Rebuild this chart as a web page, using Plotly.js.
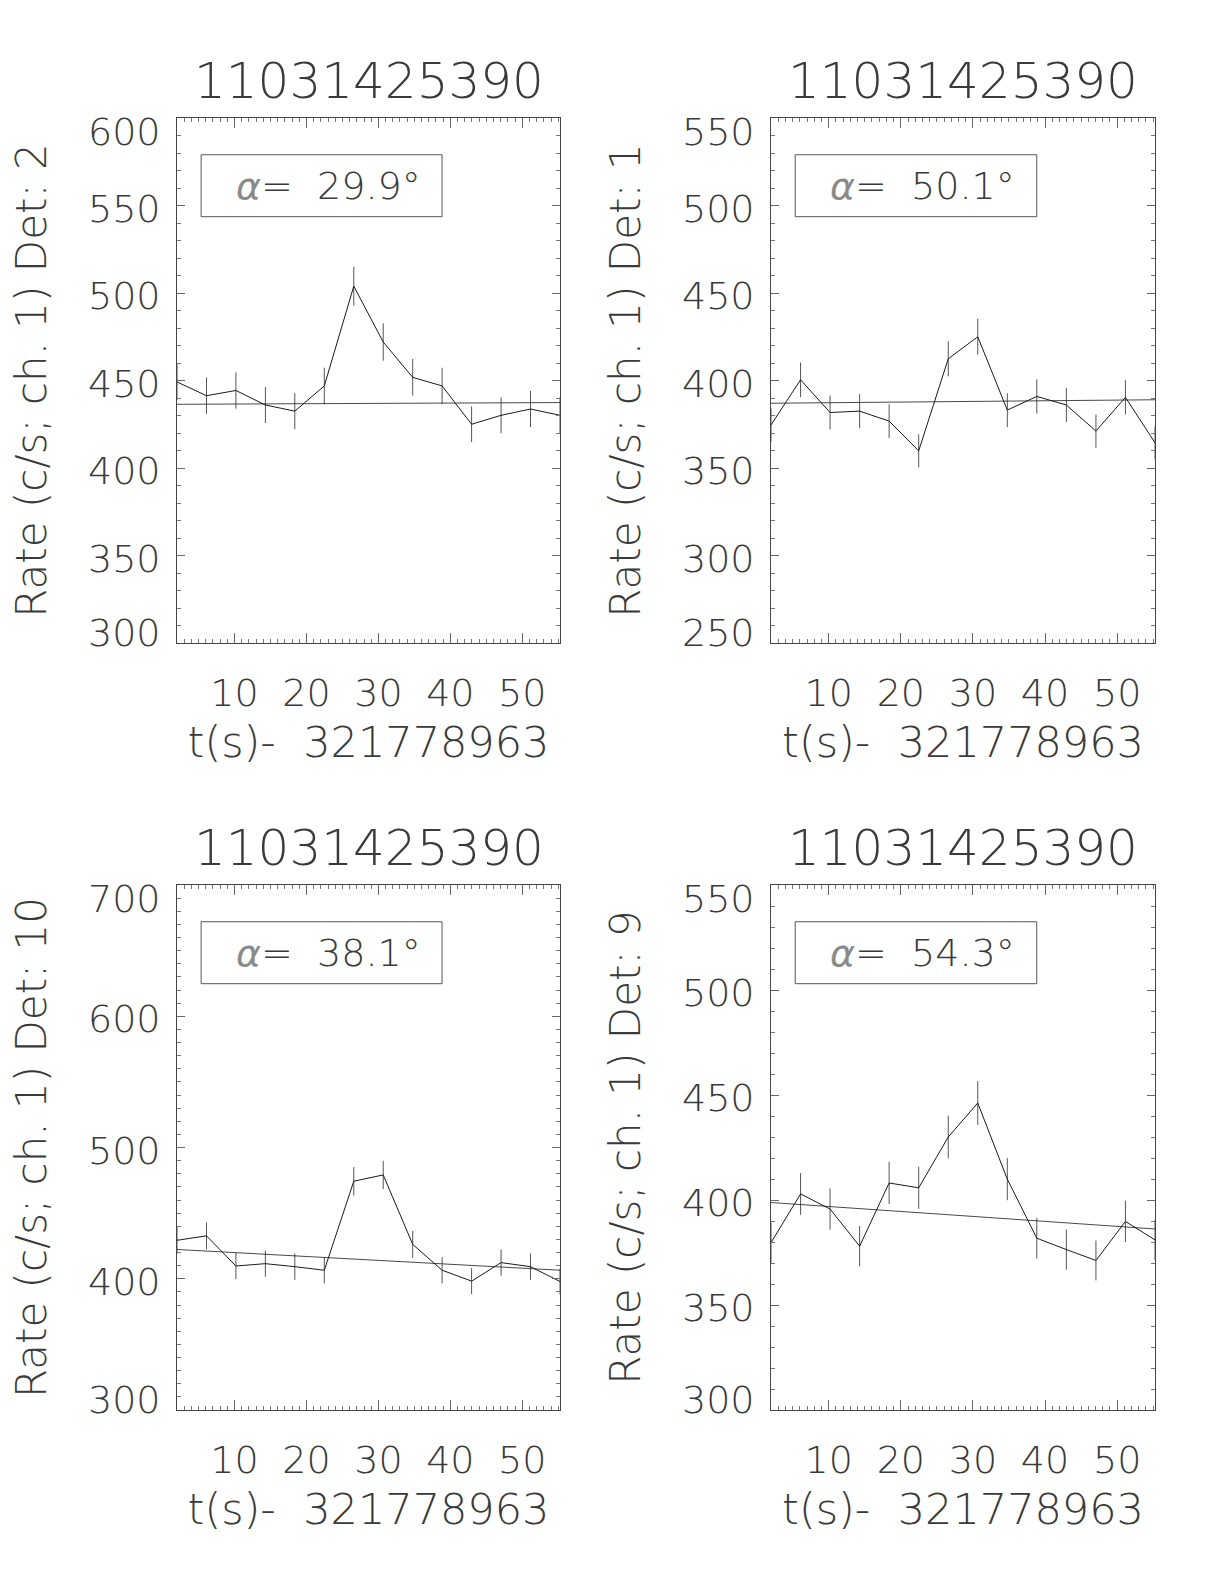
<!DOCTYPE html>
<html>
<head>
<meta charset="utf-8">
<script src="https://cdn.plot.ly/plotly-3.0.1.min.js"></script>
<style>html,body{margin:0;padding:0;background:#fff;}#chart{width:1224px;height:1584px;}</style>
</head>
<body>
<div id="chart"></div>
<script>
// ---- data ----
const time = [2.0, 6.1, 10.19, 14.29, 18.38, 22.48, 26.58, 30.67, 34.77, 38.86, 42.96, 47.06, 51.15, 55.25];
const fitTime = [2.0, 55.25];

const detectors = ["2", "1", "10", "9"];
const burstName = "11031425390";
const xTitleText = "t(s)-\u00A0 321778963";
const alphas = ["29.9", "50.1", "38.1", "54.3"];

const rateDet2  = [449.2, 441.3, 444.3, 436.0, 432.5, 446.9, 503.9, 472.0, 451.8, 446.9, 425.0, 430.1, 433.7, 430.1];
const errDet2   = [10.5, 10.4, 10.4, 10.3, 10.3, 10.4, 11.1, 10.7, 10.5, 10.4, 10.2, 10.2, 10.3, 10.2];
const fitDet2   = [436.4, 437.4];

const rateDet1  = [374.6, 400.4, 381.7, 382.5, 376.8, 359.8, 412.4, 425.0, 383.1, 390.9, 386.0, 371.1, 390.4, 364.4];
const errDet1   = [9.6, 9.9, 9.7, 9.7, 9.6, 9.4, 10.0, 10.2, 9.7, 9.8, 9.7, 9.5, 9.8, 9.4];
const fitDet1   = [387.0, 389.0];

const rateDet10 = [429.3, 432.7, 409.7, 411.5, 409.2, 406.5, 474.3, 479.1, 426.2, 406.5, 398.2, 412.3, 409.2, 397.9];
const errDet10  = [10.2, 10.3, 10.0, 10.0, 10.0, 10.0, 10.8, 10.8, 10.2, 10.0, 9.9, 10.0, 10.0, 9.9];
const fitDet10  = [422.3, 406.5];

const rateDet9  = [379.7, 402.9, 395.7, 378.0, 408.1, 405.8, 430.0, 446.2, 409.9, 381.8, 376.4, 371.2, 389.8, 381.0];
const errDet9   = [9.6, 9.9, 9.8, 9.6, 10.0, 10.0, 10.2, 10.4, 10.0, 9.7, 9.6, 9.5, 9.8, 9.6];
const fitDet9   = [398.8, 386.2];

const yRanges = [[300, 600], [250, 550], [300, 700], [300, 550]];
const yTickVals = [
  [300, 350, 400, 450, 500, 550, 600],
  [250, 300, 350, 400, 450, 500, 550],
  [300, 400, 500, 600, 700],
  [300, 350, 400, 450, 500, 550]
];
const xTickVals = [10, 20, 30, 40, 50];

// ---- layout geometry ----
const W = 1224, H = 1584;
const xDomains = [[177 / W, 560 / W], [771 / W, 1155 / W], [177 / W, 560 / W], [771 / W, 1155 / W]];
const yDomains = [[1 - 643 / H, 1 - 118 / H], [1 - 643 / H, 1 - 118 / H], [1 - 1410 / H, 1 - 885 / H], [1 - 1410 / H, 1 - 885 / H]];

const FONT = "DejaVu Sans";
const TXT = "#3a3a3a";
const INK = "#1a1a1a";
const WT = 200;

const rates = [rateDet2, rateDet1, rateDet10, rateDet9];
const errs = [errDet2, errDet1, errDet10, errDet9];
const fits = [fitDet2, fitDet1, fitDet10, fitDet9];

const traces = [];
const layout = {
  width: W, height: H,
  margin: {l: 0, r: 0, t: 0, b: 0},
  paper_bgcolor: "#ffffff",
  plot_bgcolor: "#ffffff",
  showlegend: false,
  font: {family: FONT, color: TXT, size: 38, weight: WT},
  annotations: [],
  shapes: []
};

for (let p = 0; p < 4; p++) {
  const sfx = p === 0 ? "" : String(p + 1);
  const xa = "x" + sfx, ya = "y" + sfx;
  traces.push({
    type: "scatter", mode: "lines", x: time, y: rates[p],
    xaxis: xa, yaxis: ya,
    line: {color: INK, width: 1},
    error_y: {type: "data", array: errs[p], visible: true, width: 0, thickness: 1, color: "#555"},
    hoverinfo: "skip"
  });
  traces.push({
    type: "scatter", mode: "lines", x: fitTime, y: fits[p],
    xaxis: xa, yaxis: ya,
    line: {color: INK, width: 0.8},
    hoverinfo: "skip"
  });

  layout["xaxis" + sfx] = {
    domain: xDomains[p], anchor: ya, range: fitTime.slice(),
    showgrid: false, zeroline: false,
    showline: true, linecolor: "#444", linewidth: 1, mirror: "ticks",
    ticks: "inside", ticklen: 10, tickwidth: 1, tickcolor: "#666",
    tickmode: "array", tickvals: xTickVals, ticktext: xTickVals.map(String),
    minor: {ticks: "inside", ticklen: 4, dtick: 1, tick0: 0, tickcolor: "#777", tickwidth: 1, showgrid: false},
    tickfont: {family: FONT, size: 38, color: TXT, weight: WT},
    ticklabelstandoff: 16,
    title: {text: xTitleText, font: {family: FONT, size: 43, color: TXT, weight: WT}, standoff: 13},
    automargin: false
  };
  layout["yaxis" + sfx] = {
    domain: yDomains[p], anchor: xa, range: yRanges[p],
    showgrid: false, zeroline: false,
    showline: true, linecolor: "#444", linewidth: 1, mirror: "ticks",
    ticks: "inside", ticklen: 8, tickwidth: 1, tickcolor: "#666",
    tickmode: "array", tickvals: yTickVals[p],
    showticklabels: false,
    minor: {ticks: "inside", ticklen: 4, dtick: 10, tick0: 0, tickcolor: "#777", tickwidth: 1, showgrid: false},
    title: {text: "Rate (c/s; ch. 1) Det: " + detectors[p], font: {family: FONT, size: 42, color: TXT, weight: WT}, standoff: 116},
    automargin: false
  };

  // y tick labels (IDL places the end labels inside the axis span)
  const tv = yTickVals[p];
  tv.forEach((v, i) => {
    let shift = -3;
    if (i === 0) shift = 10;
    if (i === tv.length - 1) shift = -14;
    layout.annotations.push({
      text: String(v), xref: xa + " domain", yref: ya,
      x: 0, y: v, xanchor: "right", yanchor: "middle", xshift: -14, yshift: shift,
      showarrow: false, font: {family: FONT, size: 38, color: TXT, weight: WT}
    });
  });

  // panel title
  layout.annotations.push({
    text: burstName, xref: xa + " domain", yref: ya + " domain",
    x: 0.5, y: 1, yshift: 37, xanchor: "center", yanchor: "middle",
    showarrow: false, font: {family: FONT, size: 50, color: TXT, weight: WT}
  });
  // alpha label box
  layout.shapes.push({
    type: "rect", xref: xa + " domain", yref: ya + " domain",
    x0: 0.063, x1: 0.692, y0: 0.812, y1: 0.930,
    line: {color: "#555", width: 1}, fillcolor: "rgba(0,0,0,0)"
  });
  layout.annotations.push({
    text: "<i><span style=\"color:#8a8a8a\">α</span></i>=\u00A0 " + alphas[p] + "°",
    xref: xa + " domain", yref: ya + " domain",
    x: 0.395, y: 0.871, xanchor: "center", yanchor: "middle",
    showarrow: false, font: {family: FONT, size: 38, color: TXT, weight: WT}
  });
}

Plotly.newPlot("chart", traces, layout, {staticPlot: true, displayModeBar: false});
</script>
</body>
</html>
